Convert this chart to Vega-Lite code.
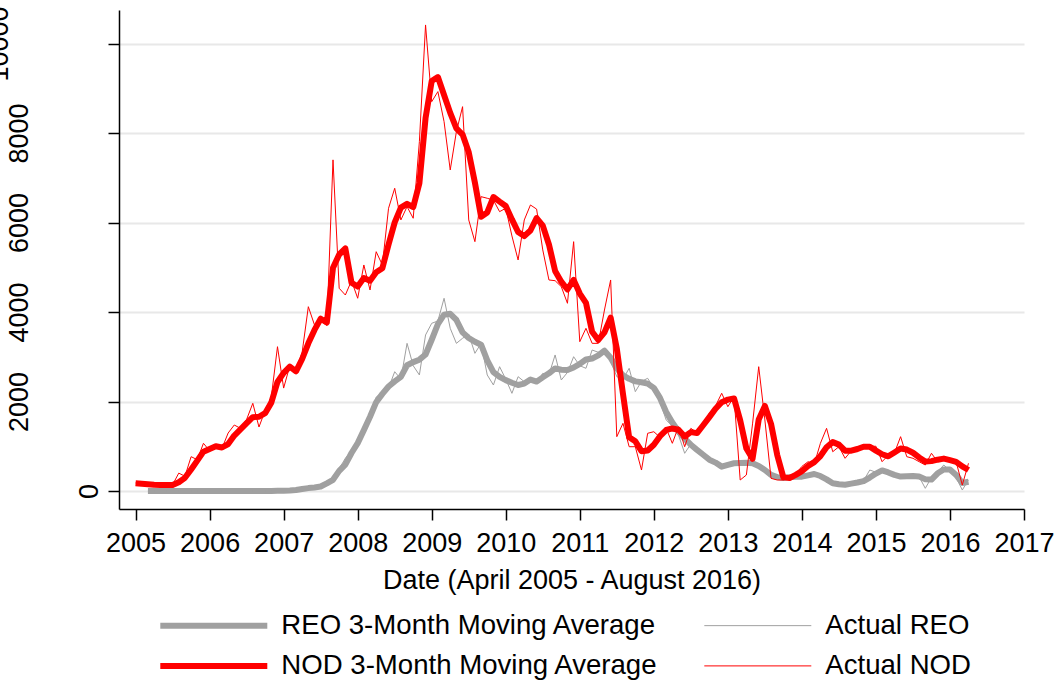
{
  "$schema": "https://vega.github.io/schema/vega-lite/v6.json",
  "width": 905,
  "height": 499,
  "autosize": {"type": "none"},
  "padding": {"left": 119, "top": 10, "right": 32, "bottom": 172},
  "background": "white",
  "config": {"view": {"stroke": null}, "font": "Liberation Sans"},
  "data": {"values": [
    {"x":2005,"nm":172,"na":180},
    {"x":2005.0833,"nm":160,"na":150},
    {"x":2005.1667,"rm":0,"ra":0,"nm":150,"na":140},
    {"x":2005.25,"rm":0,"ra":0,"nm":138,"na":130},
    {"x":2005.3333,"rm":0,"ra":0,"nm":134,"na":135},
    {"x":2005.4167,"rm":0,"ra":0,"nm":134,"na":135},
    {"x":2005.5,"rm":0,"ra":0,"nm":134,"na":140},
    {"x":2005.5833,"rm":0,"ra":0,"nm":195,"na":400},
    {"x":2005.6667,"rm":0,"ra":0,"nm":295,"na":330},
    {"x":2005.75,"rm":0,"ra":0,"nm":480,"na":767},
    {"x":2005.8333,"rm":0,"ra":0,"nm":680,"na":700},
    {"x":2005.9167,"rm":0,"ra":0,"nm":880,"na":1066},
    {"x":2006,"rm":0,"ra":0,"nm":940,"na":900},
    {"x":2006.0833,"rm":0,"ra":0,"nm":1000,"na":1000},
    {"x":2006.1667,"rm":0,"ra":0,"nm":972,"na":950},
    {"x":2006.25,"rm":0,"ra":0,"nm":1050,"na":1296},
    {"x":2006.3333,"rm":0,"ra":0,"nm":1240,"na":1475},
    {"x":2006.4167,"rm":0,"ra":0,"nm":1375,"na":1400},
    {"x":2006.5,"rm":0,"ra":0,"nm":1515,"na":1600},
    {"x":2006.5833,"rm":0,"ra":0,"nm":1650,"na":1960},
    {"x":2006.6667,"rm":0,"ra":0,"nm":1660,"na":1430},
    {"x":2006.75,"rm":0,"ra":0,"nm":1740,"na":1800},
    {"x":2006.8333,"rm":0,"ra":0,"nm":1975,"na":2100},
    {"x":2006.9167,"rm":5,"ra":5,"nm":2437,"na":3225},
    {"x":2007,"rm":8,"ra":8,"nm":2640,"na":2300},
    {"x":2007.0833,"rm":12,"ra":12,"nm":2778,"na":2800},
    {"x":2007.1667,"rm":22,"ra":20,"nm":2675,"na":2700},
    {"x":2007.25,"rm":45,"ra":50,"nm":2950,"na":3100},
    {"x":2007.3333,"rm":65,"ra":60,"nm":3300,"na":4119},
    {"x":2007.4167,"rm":80,"ra":90,"nm":3600,"na":3710},
    {"x":2007.5,"rm":100,"ra":100,"nm":3850,"na":3800},
    {"x":2007.5833,"rm":170,"ra":200,"nm":3765,"na":3700},
    {"x":2007.6667,"rm":250,"ra":260,"nm":4990,"na":7400},
    {"x":2007.75,"rm":450,"ra":500,"nm":5285,"na":4530},
    {"x":2007.8333,"rm":590,"ra":731,"nm":5420,"na":4380},
    {"x":2007.9167,"rm":850,"ra":900,"nm":4655,"na":4700},
    {"x":2008,"rm":1070,"ra":1100,"nm":4570,"na":4307},
    {"x":2008.0833,"rm":1360,"ra":1400,"nm":4760,"na":5051},
    {"x":2008.1667,"rm":1660,"ra":1700,"nm":4700,"na":4492},
    {"x":2008.25,"rm":1985,"ra":2100,"nm":4890,"na":5348},
    {"x":2008.3333,"rm":2170,"ra":2200,"nm":4977,"na":5051},
    {"x":2008.4167,"rm":2335,"ra":2300,"nm":5510,"na":6318},
    {"x":2008.5,"rm":2450,"ra":2666,"nm":6003,"na":6765},
    {"x":2008.5833,"rm":2550,"ra":2500,"nm":6333,"na":6057},
    {"x":2008.6667,"rm":2810,"ra":3300,"nm":6417,"na":6354},
    {"x":2008.75,"rm":2880,"ra":2800,"nm":6343,"na":6095},
    {"x":2008.8333,"rm":2935,"ra":2593,"nm":6880,"na":7807},
    {"x":2008.9167,"rm":3050,"ra":3487,"nm":8333,"na":10415},
    {"x":2009,"rm":3380,"ra":3748,"nm":9160,"na":8701},
    {"x":2009.0833,"rm":3730,"ra":3800,"nm":9250,"na":8925},
    {"x":2009.1667,"rm":3940,"ra":4307,"nm":8851,"na":8254},
    {"x":2009.25,"rm":3960,"ra":3636,"nm":8450,"na":7174},
    {"x":2009.3333,"rm":3822,"ra":3300,"nm":8106,"na":8031},
    {"x":2009.4167,"rm":3545,"ra":3413,"nm":7966,"na":8589},
    {"x":2009.5,"rm":3420,"ra":3500,"nm":7570,"na":6057},
    {"x":2009.5833,"rm":3335,"ra":3077,"nm":6890,"na":5572},
    {"x":2009.6667,"rm":3270,"ra":3300,"nm":6130,"na":6578},
    {"x":2009.75,"rm":2920,"ra":2593,"nm":6225,"na":6542},
    {"x":2009.8333,"rm":2655,"ra":2369,"nm":6570,"na":6500},
    {"x":2009.9167,"rm":2550,"ra":2778,"nm":6467,"na":6243},
    {"x":2010,"rm":2478,"ra":2500,"nm":6369,"na":6318},
    {"x":2010.0833,"rm":2420,"ra":2183,"nm":6070,"na":5700},
    {"x":2010.1667,"rm":2369,"ra":2555,"nm":5789,"na":5163},
    {"x":2010.25,"rm":2400,"ra":2443,"nm":5696,"na":6057},
    {"x":2010.3333,"rm":2490,"ra":2496,"nm":5822,"na":6392},
    {"x":2010.4167,"rm":2445,"ra":2400,"nm":6100,"na":6300},
    {"x":2010.5,"rm":2540,"ra":2630,"nm":5930,"na":5387},
    {"x":2010.5833,"rm":2630,"ra":2600,"nm":5510,"na":4716},
    {"x":2010.6667,"rm":2740,"ra":3040,"nm":4918,"na":4700},
    {"x":2010.75,"rm":2710,"ra":2481,"nm":4678,"na":4566},
    {"x":2010.8333,"rm":2704,"ra":2650,"nm":4503,"na":4195},
    {"x":2010.9167,"rm":2760,"ra":3001,"nm":4718,"na":5572},
    {"x":2011,"rm":2840,"ra":2800,"nm":4412,"na":3337},
    {"x":2011.0833,"rm":2940,"ra":2742,"nm":4205,"na":3636},
    {"x":2011.1667,"rm":2960,"ra":3151,"nm":3558,"na":3300},
    {"x":2011.25,"rm":3030,"ra":3100,"nm":3375,"na":3300},
    {"x":2011.3333,"rm":3136,"ra":3150,"nm":3545,"na":4045},
    {"x":2011.4167,"rm":2980,"ra":2900,"nm":3873,"na":4716},
    {"x":2011.5,"rm":2740,"ra":2555,"nm":3180,"na":1214},
    {"x":2011.5833,"rm":2585,"ra":2500,"nm":2170,"na":1513},
    {"x":2011.6667,"rm":2507,"ra":2742,"nm":1200,"na":990},
    {"x":2011.75,"rm":2450,"ra":2220,"nm":1110,"na":990},
    {"x":2011.8333,"rm":2430,"ra":2450,"nm":890,"na":469},
    {"x":2011.9167,"rm":2400,"ra":2519,"nm":905,"na":1290},
    {"x":2012,"rm":2305,"ra":2300,"nm":1035,"na":1325},
    {"x":2012.0833,"rm":2080,"ra":2000,"nm":1225,"na":1200},
    {"x":2012.1667,"rm":1765,"ra":1587,"nm":1363,"na":1401},
    {"x":2012.25,"rm":1530,"ra":1450,"nm":1398,"na":1066},
    {"x":2012.3333,"rm":1330,"ra":1250,"nm":1369,"na":1437},
    {"x":2012.4167,"rm":1170,"ra":843,"nm":1220,"na":990},
    {"x":2012.5,"rm":1035,"ra":1050,"nm":1316,"na":1401},
    {"x":2012.5833,"rm":920,"ra":900,"nm":1294,"na":1300},
    {"x":2012.6667,"rm":810,"ra":780,"nm":1470,"na":1500},
    {"x":2012.75,"rm":700,"ra":700,"nm":1650,"na":1737},
    {"x":2012.8333,"rm":635,"ra":620,"nm":1837,"na":1900},
    {"x":2012.9167,"rm":545,"ra":530,"nm":1985,"na":2184},
    {"x":2013,"rm":585,"ra":600,"nm":2042,"na":1884},
    {"x":2013.0833,"rm":620,"ra":640,"nm":2069,"na":2108},
    {"x":2013.1667,"rm":628,"ra":620,"nm":1578,"na":246},
    {"x":2013.25,"rm":630,"ra":640,"nm":950,"na":358},
    {"x":2013.3333,"rm":622,"ra":610,"nm":720,"na":1500},
    {"x":2013.4167,"rm":560,"ra":540,"nm":1600,"na":2778},
    {"x":2013.5,"rm":470,"ra":420,"nm":1900,"na":1587},
    {"x":2013.5833,"rm":360,"ra":300,"nm":1500,"na":283},
    {"x":2013.6667,"rm":310,"ra":280,"nm":806,"na":246},
    {"x":2013.75,"rm":290,"ra":270,"nm":305,"na":246},
    {"x":2013.8333,"rm":310,"ra":300,"nm":292,"na":300},
    {"x":2013.9167,"rm":320,"ra":330,"nm":360,"na":380},
    {"x":2014,"rm":320,"ra":310,"nm":445,"na":550},
    {"x":2014.0833,"rm":350,"ra":370,"nm":558,"na":655},
    {"x":2014.1667,"rm":380,"ra":400,"nm":645,"na":600},
    {"x":2014.25,"rm":335,"ra":300,"nm":782,"na":1066},
    {"x":2014.3333,"rm":260,"ra":200,"nm":977,"na":1401},
    {"x":2014.4167,"rm":172,"ra":130,"nm":1093,"na":878},
    {"x":2014.5,"rm":150,"ra":140,"nm":1037,"na":990},
    {"x":2014.5833,"rm":140,"ra":130,"nm":900,"na":731},
    {"x":2014.6667,"rm":165,"ra":180,"nm":901,"na":900},
    {"x":2014.75,"rm":190,"ra":170,"nm":939,"na":950},
    {"x":2014.8333,"rm":220,"ra":230,"nm":990,"na":1028},
    {"x":2014.9167,"rm":300,"ra":469,"nm":990,"na":1000},
    {"x":2015,"rm":390,"ra":420,"nm":903,"na":1000},
    {"x":2015.0833,"rm":460,"ra":450,"nm":822,"na":655},
    {"x":2015.1667,"rm":415,"ra":380,"nm":775,"na":800},
    {"x":2015.25,"rm":360,"ra":330,"nm":862,"na":850},
    {"x":2015.3333,"rm":322,"ra":300,"nm":949,"na":1214},
    {"x":2015.4167,"rm":330,"ra":340,"nm":926,"na":767},
    {"x":2015.5,"rm":334,"ra":330,"nm":855,"na":731},
    {"x":2015.5833,"rm":322,"ra":320,"nm":749,"na":655},
    {"x":2015.6667,"rm":265,"ra":60,"nm":657,"na":581},
    {"x":2015.75,"rm":255,"ra":300,"nm":668,"na":843},
    {"x":2015.8333,"rm":396,"ra":430,"nm":700,"na":655},
    {"x":2015.9167,"rm":480,"ra":581,"nm":724,"na":731},
    {"x":2016,"rm":480,"ra":450,"nm":689,"na":700},
    {"x":2016.0833,"rm":360,"ra":300,"nm":652,"na":650},
    {"x":2016.1667,"rm":180,"ra":22,"nm":550,"na":134},
    {"x":2016.25,"rm":208,"ra":250,"nm":469,"na":619}
  ]},
  "transform": [{"fold": ["rm", "ra", "nm", "na"], "as": ["key", "v"]}],
  "encoding": {
    "x": {
      "field": "x", "type": "quantitative",
      "scale": {"domain": [2004.776, 2017], "nice": false, "zero": false},
      "axis": {
        "values": [2005,2006,2007,2008,2009,2010,2011,2012,2013,2014,2015,2016,2017],
        "format": "d",
        "title": "Date (April 2005 - August 2016)",
        "titleFontSize": 27, "titleFontWeight": "normal", "titleColor": "black", "titlePadding": 11,
        "labelFontSize": 27, "labelColor": "black", "labelPadding": 10,
        "labelFlush": false, "labelOverlap": false, "labelBound": false,
        "tickSize": 11, "tickColor": "black", "tickWidth": 1.5,
        "domainColor": "black", "domainWidth": 1.5,
        "grid": false
      }
    },
    "y": {
      "field": "v", "type": "quantitative",
      "scale": {"domain": [-402, 10749], "nice": false, "zero": false},
      "axis": {
        "values": [0, 2000, 4000, 6000, 8000, 10000],
        "format": "d",
        "title": null,
        "labelAngle": -90, "labelAlign": "center", "labelBaseline": "alphabetic",
        "labelPadding": {"condition": [{"test": "datum.value === 0", "value": 11}, {"test": "datum.value === 10000", "value": 101}], "value": 81},
        "labelFontSize": 27, "labelColor": "black",
        "labelFlush": false, "labelOverlap": false, "labelBound": false,
        "tickSize": 11, "tickColor": "black", "tickWidth": 1.5,
        "domainColor": "black", "domainWidth": 1.5,
        "grid": true, "gridColor": "#e8e8e8", "gridWidth": 2
      }
    },
    "color": {
      "field": "key", "type": "nominal",
      "scale": {"domain": ["rm", "nm", "ra", "na"], "range": ["#a0a0a0", "#ff0000", "#a0a0a0", "#ff0000"]},
      "legend": {
        "orient": "none", "legendX": 38.3, "legendY": 601.7,
        "columns": 2, "columnPadding": 43, "rowPadding": 11.7,
        "symbolType": "stroke", "symbolSize": 11449, "clipHeight": 27,
        "labelOffset": 11, "labelFontSize": 27.6, "labelColor": "black", "labelLimit": 700,
        "title": null, "padding": 0,
        "labelExpr": "{'rm': 'REO 3-Month Moving Average', 'ra': 'Actual REO', 'nm': 'NOD 3-Month Moving Average', 'na': 'Actual NOD'}[datum.label]"
      }
    },
    "strokeWidth": {
      "field": "key", "type": "nominal",
      "scale": {"type": "ordinal", "domain": ["rm", "nm", "ra", "na"], "range": [6, 6, 1, 1]},
      "legend": {
        "orient": "none", "legendX": 38.3, "legendY": 601.7,
        "columns": 2, "columnPadding": 43, "rowPadding": 11.7,
        "symbolType": "stroke", "symbolSize": 11449, "clipHeight": 27,
        "labelOffset": 11, "labelFontSize": 27.6, "labelColor": "black", "labelLimit": 700,
        "title": null, "padding": 0,
        "labelExpr": "{'rm': 'REO 3-Month Moving Average', 'ra': 'Actual REO', 'nm': 'NOD 3-Month Moving Average', 'na': 'Actual NOD'}[datum.label]"
      }
    }
  },
  "layer": [
    {"transform": [{"filter": "datum.key === 'rm'"}], "mark": {"type": "line", "strokeCap": "butt", "strokeJoin": "round"}},
    {"transform": [{"filter": "datum.key === 'ra'"}], "mark": {"type": "line", "strokeCap": "butt", "strokeJoin": "miter"}},
    {"transform": [{"filter": "datum.key === 'nm'"}], "mark": {"type": "line", "strokeCap": "butt", "strokeJoin": "round"}},
    {"transform": [{"filter": "datum.key === 'na'"}], "mark": {"type": "line", "strokeCap": "butt", "strokeJoin": "miter"}}
  ]
}
